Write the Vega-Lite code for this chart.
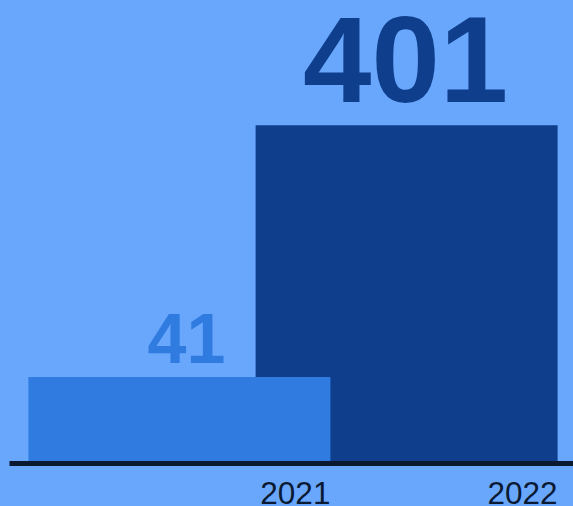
{
  "$schema": "https://vega.github.io/schema/vega-lite/v6.json",
  "width": 568,
  "height": 463,
  "autosize": "none",
  "padding": {"left": 9, "top": 0, "right": 0, "bottom": 43},
  "background": "#69a7fd",
  "config": {"view": {"stroke": null}},
  "data": {"values": [
    {"year": "2022", "value": 401},
    {"year": "2021", "value": 41}
  ]},
  "encoding": {
    "x": {
      "field": "year",
      "type": "ordinal",
      "scale": {"paddingInner": 0, "paddingOuter": 0.25},
      "axis": {
        "title": null,
        "labelAngle": 0,
        "labelAlign": "right",
        "labelOffset": 151,
        "labelFontSize": 31.5,
        "labelFont": "Liberation Sans",
        "labelColor": "#0b1a33",
        "domainColor": "#0a1830",
        "domainWidth": 5,
        "ticks": false,
        "labelPadding": 15,
        "labelBaseline": "top",
        "zindex": 1
      }
    },
    "color": {
      "field": "year",
      "type": "nominal",
      "scale": {"domain": ["2021", "2022"], "range": ["#307be0", "#0f3e8c"]},
      "legend": null
    },
    "y": {"field": "value", "type": "quantitative", "scale": {"domain": [-82, 580], "nice": false, "zero": false}, "axis": null}
  },
  "layer": [
    {
      "mark": {"type": "bar", "width": 302},
      "encoding": {
        "y2": {"datum": -82}
      }
    },
    {
      "transform": [{"filter": "datum.year == '2021'"}],
      "mark": {"type": "text", "baseline": "bottom", "dy": 1, "dx": 7, "font": "Liberation Sans", "fontWeight": "bold", "fontSize": 70},
      "encoding": {
        "text": {"field": "value", "type": "quantitative"}
      }
    },
    {
      "transform": [{"filter": "datum.year == '2022'"}],
      "mark": {"type": "text", "baseline": "bottom", "dy": 3, "dx": -1, "font": "Liberation Sans", "fontWeight": "bold", "fontSize": 123},
      "encoding": {
        "text": {"field": "value", "type": "quantitative"}
      }
    }
  ]
}
